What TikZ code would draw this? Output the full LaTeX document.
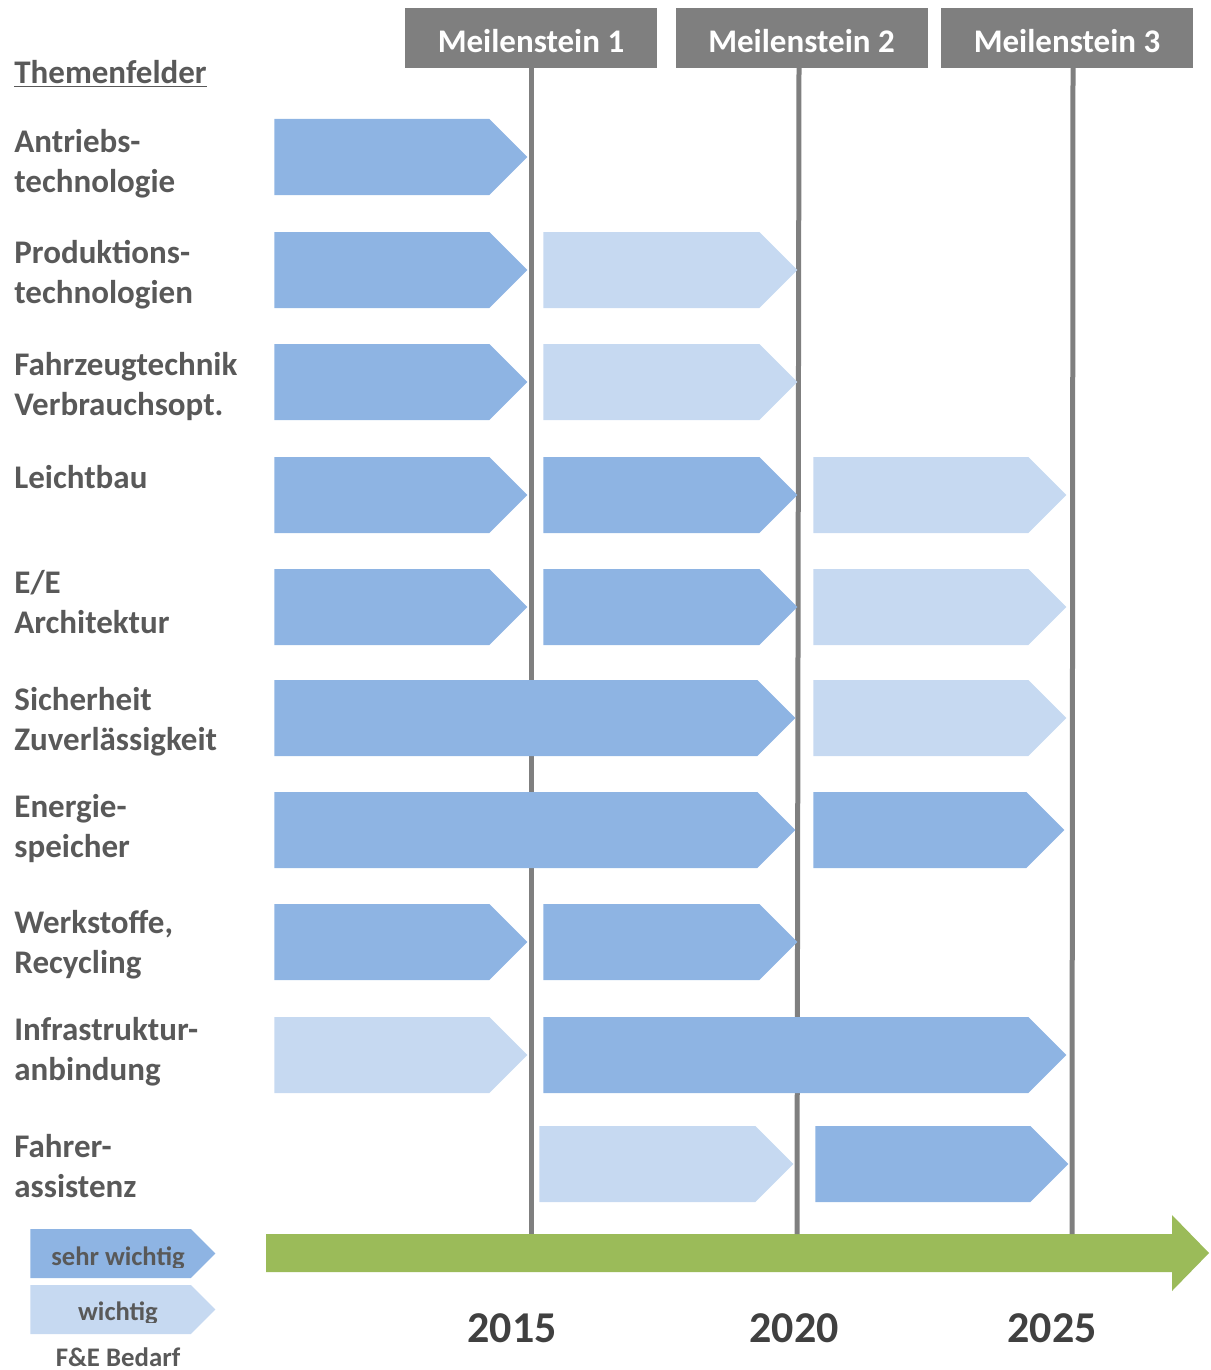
\documentclass[tikz,border=0pt]{standalone}
\usepackage{fontspec}
\setmainfont{Carlito}
\usetikzlibrary{shapes.symbols}
\definecolor{dunkelblau}{HTML}{8EB4E3}
\definecolor{hellblau}{HTML}{C6D9F1}
\definecolor{grau}{HTML}{7F7F7F}
\definecolor{schrift}{HTML}{595959}
\definecolor{jahrfarbe}{HTML}{404040}
\definecolor{gruen}{HTML}{9BBB59}

\begin{document}
\begin{tikzpicture}[x=0.5pt,y=-0.5pt,
	balken/.style={signal, signal to=east, signal pointer angle=90, inner sep=0pt, minimum height=38pt, anchor=west},
	breite/.style={minimum width=#1*0.5pt},
	sehr/.style={balken, fill=dunkelblau},
	wichtig/.style={balken, fill=hellblau},
	thema/.style={anchor=north west, align=left, inner sep=0pt, text=schrift, font=\bfseries\fontsize{16.5}{20}\selectfont},
	meilenstein/.style={fill=grau, minimum width=126pt, minimum height=30pt, inner sep=0pt, text height=14.5pt, text depth=0pt, text=white, font=\bfseries\fontsize{16.5}{20}\selectfont},
	linie/.style={draw=grau, line width=2.5pt},
	jahr/.style={text=jahrfarbe, font=\bfseries\fontsize{22}{26}\selectfont}]

	\useasboundingbox (0,0) rectangle (1210,1370);

	% Meilensteine
	\node[meilenstein] (m1) at (531,38) {Meilenstein 1};
	\node[meilenstein] (m2) at (801.5,38) {Meilenstein 2};
	\node[meilenstein] (m3) at (1067,38) {Meilenstein 3};

	% Zeitachse
	\fill[gruen] (266,1234) -- (1172,1234) -- (1172,1215) -- (1209,1253) -- (1172,1291) -- (1172,1272) -- (266,1272) -- cycle;
	\coordinate (achse1) at (531,1234);
	\coordinate (achse2) at (797,1234);
	\coordinate (achse3) at (1072,1234);
	\coordinate (oben2) at (799,68);
	\coordinate (oben3) at (1073,68);
	\draw[linie] (m1.south) -- (achse1);
	\draw[linie] (oben2) -- (achse2);
	\draw[linie] (oben3) -- (achse3);

	\node[jahr] (j1) at (512,1328) {2015};
	\node[jahr] (j2) at (794,1328) {2020};
	\node[jahr] (j3) at (1052,1328) {2025};

	% Themenfelder
	\node[thema] (titel) at (14,60) {\underline{Themenfelder}};
	\node[thema] (t1) at (14,129) {Antriebs-\\technologie};
	\node[thema] (t2) at (14,240) {Produktions-\\technologien};
	\node[thema] (t3) at (14,352) {Fahrzeugtechnik\\Verbrauchsopt.};
	\node[thema] (t4) at (14,465) {Leichtbau};
	\node[thema] (t5) at (14,570) {E/E\\Architektur};
	\node[thema] (t6) at (14,687) {Sicherheit\\Zuverlässigkeit};
	\node[thema] (t7) at (14,794) {Energie-\\speicher};
	\node[thema] (t8) at (14,910) {Werkstoffe,\\Recycling};
	\node[thema] (t9) at (14,1017) {Infrastruktur-\\anbindung};
	\node[thema] (t10) at (14,1134) {Fahrer-\\assistenz};

	% Balken
	\node[sehr, breite=253] (r1a) at (274,157) {};

	\node[sehr, breite=253] (r2a) at (274,270) {};
	\node[wichtig, breite=254] (r2b) at (543,270) {};

	\node[sehr, breite=253] (r3a) at (274,382) {};
	\node[wichtig, breite=254] (r3b) at (543,382) {};

	\node[sehr, breite=253] (r4a) at (274,495) {};
	\node[sehr, breite=254] (r4b) at (543,495) {};
	\node[wichtig, breite=253] (r4c) at (813,495) {};

	\node[sehr, breite=253] (r5a) at (274,607) {};
	\node[sehr, breite=254] (r5b) at (543,607) {};
	\node[wichtig, breite=253] (r5c) at (813,607) {};

	\node[sehr, breite=521] (r6a) at (274,718) {};
	\node[wichtig, breite=253] (r6c) at (813,718) {};

	\node[sehr, breite=521] (r7a) at (274,830) {};
	\node[sehr, breite=251] (r7c) at (813,830) {};

	\node[sehr, breite=253] (r8a) at (274,942) {};
	\node[sehr, breite=254] (r8b) at (543,942) {};

	\node[wichtig, breite=253] (r9a) at (274,1055) {};
	\node[sehr, breite=523] (r9b) at (543,1055) {};

	\node[wichtig, breite=254] (r10b) at (539,1164) {};
	\node[sehr, breite=253] (r10c) at (815,1164) {};

	% Legende
	\node[sehr, breite=185, minimum height=24.5pt] (l1) at (30,1253.5) {};
	\node[wichtig, breite=185, minimum height=24.5pt] (l2) at (30,1309.5) {};
	\begin{scope}
		\clip (l1.north west) rectangle (215,1267);
		\node[anchor=base, text=schrift, font=\bfseries\fontsize{13.3}{16}\selectfont] (s1) at (118,1265) {sehr wichtig};
	\end{scope}
	\begin{scope}
		\clip (l2.north west) rectangle (215,1322);
		\node[anchor=base, text=schrift, font=\bfseries\fontsize{13.3}{16}\selectfont] (s2) at (118,1320) {wichtig};
	\end{scope}
	\node[anchor=base, text=schrift, font=\bfseries\fontsize{13.4}{16}\selectfont] (bedarf) at (118,1366) {F\&E Bedarf};

\end{tikzpicture}
\end{document}
